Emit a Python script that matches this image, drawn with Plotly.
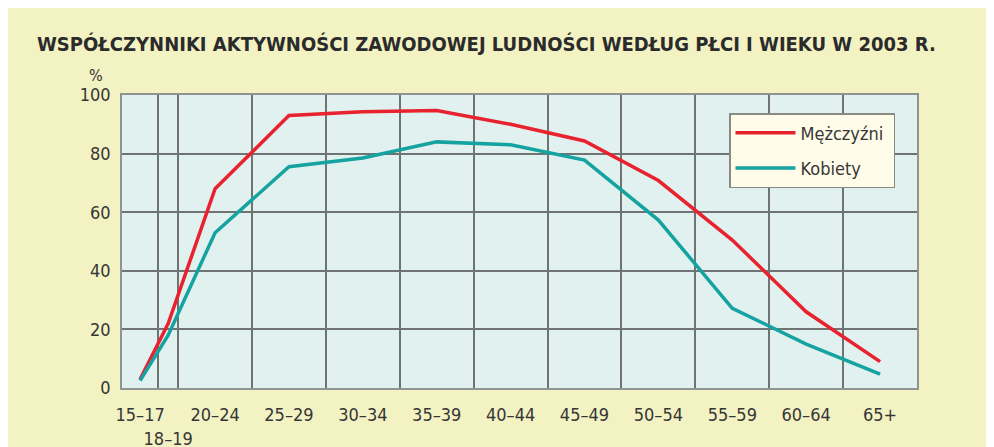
import plotly.graph_objects as go

# ---- data ----
age_groups = ["15–17", "18–19", "20–24", "25–29", "30–34", "35–39", "40–44",
              "45–49", "50–54", "55–59", "60–64", "65+"]
tick_labels = ["15–17", "<br>18–19", "20–24", "25–29", "30–34", "35–39", "40–44",
               "45–49", "50–54", "55–59", "60–64", "65+"]
men = [3, 22, 68, 93, 94.3, 94.7, 90, 84.3, 70.8, 50.5, 26, 9]
women = [2.5, 18, 53, 75.5, 78.5, 84, 83, 77.8, 57.3, 27.2, 15, 4.7]
y_ticks = [0, 20, 40, 60, 80, 100]

# relative band widths on the x axis (layout only)
band_widths = [0.49, 0.27, 1, 1, 1, 1, 1, 1, 1, 1, 1, 1]
edges = [0.0]
for w in band_widths:
    edges.append(edges[-1] + w)
centers = [(edges[i] + edges[i + 1]) / 2 for i in range(len(band_widths))]

RED = "#e8222e"
TEAL = "#14a3a0"
CREAM = "#f3f2c3"
PLOTBG = "#e1f1ef"
GRID = "#6f7473"
TXT = "#363636"
FONT = "DejaVu Sans Condensed, Liberation Sans, sans-serif"

fig = go.Figure()
fig.add_trace(go.Scatter(x=centers, y=men, mode="lines", name="Mężczyźni\u00a0",
                         line=dict(color=RED, width=3.5), legendgroup="m"))
fig.add_trace(go.Scatter(x=centers, y=women, mode="lines", name="Kobiety",
                         line=dict(color=TEAL, width=3.5), legendgroup="k"))

# page body adds an 8px offset; figure coords = screen coords - 8
OFF = 8
W, H = 994, 447
L, R, T, B = 122 - OFF, W - (917 - OFF), 95 - OFF, H - (388 - OFF)
pw, ph = W - L - R, H - T - B

def px_x(p):
    return (p - OFF - L) / pw

def px_y(p):
    return (H - B - (p - OFF)) / ph

fig.update_layout(
    width=W, height=H,
    margin=dict(l=L, r=R, t=T, b=B, pad=0, autoexpand=False),
    paper_bgcolor=CREAM,
    plot_bgcolor=PLOTBG,
    font=dict(family=FONT, color=TXT, size=18),
    showlegend=True,
    legend=dict(
        x=px_x(729), y=px_y(113), xanchor="left", yanchor="top",
        bgcolor="#fffde9", bordercolor="#8a8a84", borderwidth=1.5,
        font=dict(family=FONT, size=18, color=TXT),
        itemwidth=60, tracegroupgap=9,
    ),
    xaxis=dict(
        range=[edges[0], edges[-1]],
        tickmode="array", tickvals=centers, ticktext=tick_labels,
        tickangle=0, automargin=False,
        showgrid=False, zeroline=False,
        showline=True, mirror=True, linecolor="#8f9492", linewidth=1.5,
        ticks="", ticklabelstandoff=10,
        tickfont=dict(family=FONT, size=18, color=TXT),
        minor=dict(tickmode="array", tickvals=edges[1:-1], showgrid=True,
                   gridcolor=GRID, gridwidth=1.5, ticks=""),
        fixedrange=True,
    ),
    yaxis=dict(
        range=[0, 100], tickmode="array", tickvals=y_ticks,
        showgrid=True, gridcolor=GRID, gridwidth=1.5, zeroline=False,
        showline=True, mirror=True, linecolor="#8f9492", linewidth=1.5,
        ticks="", ticklabelstandoff=6, automargin=False,
        tickfont=dict(family=FONT, size=18, color=TXT),
        fixedrange=True,
    ),
    annotations=[
        dict(text="<b>WSPÓŁCZYNNIKI AKTYWNOŚCI ZAWODOWEJ LUDNOŚCI WEDŁUG PŁCI I WIEKU W 2003 R.</b>",
             xref="paper", yref="paper", x=px_x(35), y=px_y(44),
             xanchor="left", yanchor="middle", showarrow=False,
             font=dict(family=FONT, size=20, color="#2b2b2b")),
        dict(text="%", xref="paper", yref="paper", x=px_x(96), y=px_y(76),
             xanchor="center", yanchor="middle", showarrow=False,
             font=dict(family=FONT, size=16, color=TXT)),
    ],
)

fig.write_html("out.html")
